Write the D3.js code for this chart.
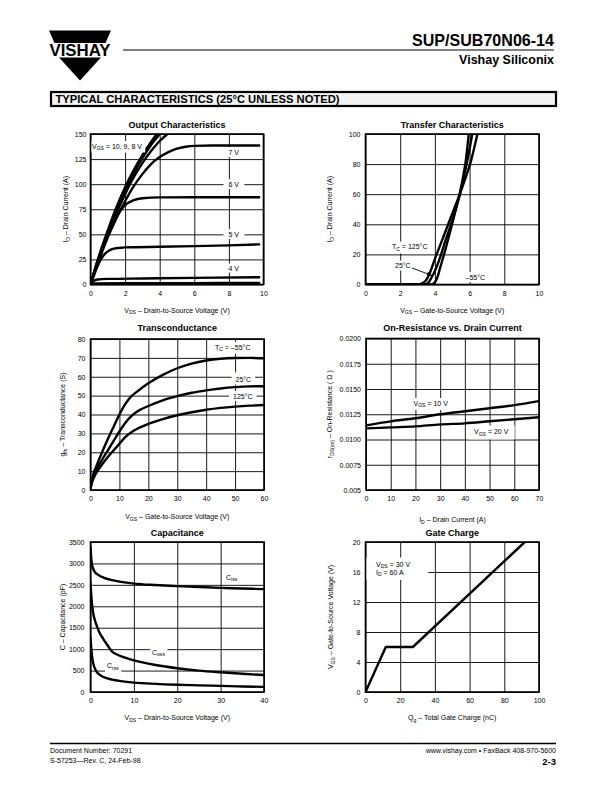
<!DOCTYPE html>
<html><head><meta charset="utf-8">
<script src="https://cdn.jsdelivr.net/npm/d3@7"></script>
<style>
body{margin:0;background:#fff}
svg{display:block}
text{font-family:'Liberation Sans',Arial,Helvetica,sans-serif;fill:#000}
</style>
</head><body>
<svg id="c" width="612" height="792"></svg>
<script>
// ---------------- DATA ----------------
// Output Characteristics: [VDS (V), ID (A)]
const out10V = [[0,0],[0.25,15],[0.5,29],[1,54],[1.5,77],[2,97],[2.5,114],[3,129],[3.5,142],[4,154]];
const out9V  = [[0,0],[0.25,14.5],[0.5,28],[1,52],[1.5,74],[2,94],[2.5,111],[3,126],[3.5,139],[4,150],[4.2,155]];
const out8V  = [[0,0],[0.25,14],[0.5,27],[1,50],[1.5,71],[2,90],[2.5,107],[3,121],[3.5,133],[4,143],[4.5,151],[4.7,155]];
const out7V  = [[0,0],[0.25,13],[0.5,25],[1,47],[1.5,66],[2,83],[2.5,98],[3,110],[3.5,120],[4,127],[4.5,132],[5,135.5],[5.5,137.3],[6,138.2],[7,138.6],[8,138.6],[9.75,138.6]];
const out6V  = [[0,0],[0.25,13],[0.5,25],[0.75,37],[1,48],[1.25,58],[1.5,67],[1.75,74],[2,79],[2.5,84],[3,86],[4,86.8],[6,87],[8,87],[9.75,87]];
const out5V  = [[0,0],[0.2,9],[0.4,18],[0.6,25],[0.8,30],[1,33],[1.3,35.5],[1.7,36.5],[2,37],[4,37.6],[6,38.2],[8,39],[9.75,40]];
const out4V  = [[0,0],[0.15,3],[0.4,5],[1,5.6],[3,6],[6,6.6],[9.75,7.3]];
const out3V  = [[0,0],[0.3,1],[2,1.2],[6,1.4],[9.75,1.6]];
const outXTicks = [0,2,4,6,8,10];
const outYTicks = [0,25,50,75,100,125,150];

// Transfer Characteristics: [VGS (V), ID (A)]
const tr125 = [[0,0],[3,0],[3.3,1],[3.5,3],[3.7,7.5],[4,17],[4.4,29],[4.8,41],[5.1,50],[5.4,59],[5.8,72],[6.1,83],[6.45,100]];
const tr25  = [[0,0],[3.35,0],[3.6,1],[3.8,4.5],[4,9],[4.3,18],[4.6,29],[4.9,39],[5.2,50],[5.4,58],[5.7,73],[6,90],[6.15,100]];
const trM55 = [[0,0],[3.8,0],[4,1.5],[4.15,5],[4.3,11],[4.6,23],[4.9,36],[5.1,45],[5.4,59],[5.6,70],[5.8,84],[5.95,100]];
const trXTicks = [0,2,4,6,8,10];
const trYTicks = [0,20,40,60,80,100];

// Transconductance: [VGS (V), gfs (S)]
const tcM55 = [[0,1],[0.5,5],[1,8.5],[2,12.5],[4,20],[6,27],[8,33.5],[10,40],[12,45.5],[14,49.5],[16,52],[20,56.5],[25,61],[30,64.5],[35,67],[40,68.6],[45,69.5],[50,69.9],[55,70],[60,69.8]];
const tc25  = [[0,1],[0.5,4.5],[1,7],[2,10.5],[4,16],[6,21],[8,26],[10,31],[12,35.5],[14,39],[16,41.5],[20,44.5],[25,47.5],[30,49.7],[35,51.5],[40,52.8],[45,53.8],[50,54.5],[55,54.9],[60,55]];
const tc125 = [[0,1],[0.5,4],[1,6],[2,9],[4,13.5],[6,17.5],[8,21],[10,24.5],[12,28],[14,30.5],[16,32.3],[20,35],[25,37.6],[30,39.6],[35,41.2],[40,42.5],[45,43.5],[50,44.2],[55,44.7],[60,45]];
const tcXTicks = [0,10,20,30,40,50,60];
const tcYTicks = [0,10,20,30,40,50,60,70,80];

// On-Resistance vs Drain Current: [ID (A), rDS(on) (ohm)]
const ron10V = [[0,0.0114],[10,0.0118],[20,0.0121],[30,0.0125],[40,0.0128],[50,0.0131],[60,0.0134],[70,0.0138]];
const ron20V = [[0,0.0111],[10,0.0112],[20,0.0113],[30,0.0115],[40,0.0116],[50,0.0118],[60,0.0120],[70,0.0122]];
const ronXTicks = [0,10,20,30,40,50,60,70];
const ronYTicks = [0.005,0.0075,0.01,0.0125,0.015,0.0175,0.02];
const ronYLabels = ["0.005","0.0075","0.0100","0.0125","0.0150","0.0175","0.0200"];

// Capacitance: [VDS (V), C (pF)]
const capCiss = [[0,3380],[0.15,3150],[0.3,3000],[0.6,2880],[1,2800],[2,2720],[3,2670],[5,2610],[7,2570],[10,2530],[15,2495],[20,2470],[25,2450],[30,2430],[35,2415],[40,2400]];
const capCoss = [[0,2550],[0.3,2100],[0.6,1850],[1,1680],[1.5,1530],[2,1400],[3,1230],[4,1080],[5,940],[6,880],[8,800],[10,740],[12,690],[15,630],[20,555],[25,500],[30,460],[35,425],[40,395]];
const capCrss = [[0,1270],[0.2,1000],[0.4,800],[0.7,640],[1,550],[1.5,460],[2,410],[3,350],[5,290],[7,255],[10,220],[15,190],[20,170],[25,155],[30,143],[35,130],[40,120]];
const capXTicks = [0,10,20,30,40];
const capYTicks = [0,500,1000,1500,2000,2500,3000,3500];

// Gate Charge: [Qg (nC), VGS (V)]
const gateCharge = [[0,0],[11.7,6],[27.3,6],[91.8,20]];
const gcXTicks = [0,20,40,60,80,100];
const gcYTicks = [0,4,8,12,16,20];

// ---------------- DRAWING ----------------
const svg = d3.select('#c');
const NARROW = "'Liberation Sans Narrow','Arial Narrow','Liberation Sans',Arial,sans-serif";

function addText(parent, x, y, parts, o = {}) {
  const fs = o.size || 7;
  const t = parent.append('text').attr('x', x).attr('y', y).attr('font-size', fs)
    .attr('text-anchor', o.anchor || 'start');
  if (o.weight) t.attr('font-weight', o.weight);
  if (o.family) t.style('font-family', o.family);
  if (o.transform) t.attr('transform', o.transform);
  let pend = 0;
  parts.forEach(p => {
    if (typeof p === 'string') {
      const s = t.append('tspan').text(p);
      if (pend) s.attr('dy', pend);
      pend = 0;
    } else {
      t.append('tspan').attr('font-size', fs * 0.72).attr('dy', fs * 0.28).text(p.sub);
      pend = -fs * 0.28;
    }
  });
  return t;
}

function chart(c) {
  const g = svg.append('g');
  const x = d3.scaleLinear().domain(c.xd).range([c.l, c.r]);
  const y = d3.scaleLinear().domain(c.yd).range([c.b, c.t]);

  const ax = g.append('g').attr('transform', `translate(0,${c.b})`)
    .call(d3.axisBottom(x).tickValues(c.xt).tickSize(-(c.b - c.t)).tickPadding(6.5)
      .tickFormat(c.xf || d3.format('d')));
  const ay = g.append('g').attr('transform', `translate(${c.l},0)`)
    .call(d3.axisLeft(y).tickValues(c.yt).tickSize(-(c.r - c.l)).tickPadding(c.ypad || 4.5)
      .tickFormat(c.yf || d3.format('d')));
  [ax, ay].forEach(a => {
    a.attr('font-family', null).attr('font-size', null);
    a.select('.domain').remove();
    a.selectAll('line').attr('stroke', '#000').attr('stroke-width', 0.9);
    a.selectAll('text').attr('font-size', 7).attr('fill', '#000');
  });

  const id = 'clip' + c.id;
  svg.append('clipPath').attr('id', id).append('rect')
    .attr('x', c.l).attr('y', c.t).attr('width', c.r - c.l).attr('height', c.b - c.t);

  const line = d3.line().x(d => x(d[0])).y(d => y(d[1])).curve(c.curve || d3.curveMonotoneX);
  const cg = g.append('g').attr('clip-path', `url(#${id})`);
  c.series.forEach(s => cg.append('path').datum(s).attr('d', line)
    .attr('fill', 'none').attr('stroke', '#000').attr('stroke-width', 2.4)
    .attr('stroke-linejoin', 'round').attr('stroke-linecap', 'round'));

  const bgG = g.append('g').attr('clip-path', `url(#${id})`);
  g.append('rect').attr('x', c.l).attr('y', c.t).attr('width', c.r - c.l).attr('height', c.b - c.t)
    .attr('fill', 'none').attr('stroke', '#000').attr('stroke-width', 1.6);
  const lg = g.append('g');

  (c.labels || []).forEach(L => {
    const lines = L.lines || [L];
    const nodes = lines.map(l => addText(lg, l.x, l.y, l.parts, { size: 7 }));
    if (L.bg) {
      let x0 = Infinity, y0 = Infinity, x1 = -Infinity, y1 = -Infinity;
      nodes.forEach(n => { const b = n.node().getBBox();
        x0 = Math.min(x0, b.x); y0 = Math.min(y0, b.y); x1 = Math.max(x1, b.x + b.width); y1 = Math.max(y1, b.y + b.height); });
      const p = L.bg;
      bgG.append('rect').attr('x', x0 - p[0]).attr('y', y0 - p[1])
        .attr('width', x1 - x0 + p[0] + p[2]).attr('height', y1 - y0 + p[1] + p[3]).attr('fill', '#fff');
    }
  });

  if (c.arrow) {
    const a = c.arrow;
    lg.append('line').attr('x1', a[0]).attr('y1', a[1]).attr('x2', a[2]).attr('y2', a[3])
      .attr('stroke', '#000').attr('stroke-width', 0.9);
    const ang = Math.atan2(a[3] - a[1], a[2] - a[0]);
    const L = 5, W = 2;
    const bx = a[2] - L * Math.cos(ang), by = a[3] - L * Math.sin(ang);
    lg.append('path').attr('d', `M${a[2]},${a[3]}L${bx - W * Math.sin(ang)},${by + W * Math.cos(ang)}L${bx + W * Math.sin(ang)},${by - W * Math.cos(ang)}Z`)
      .attr('fill', '#000');
  }

  addText(g, (c.l + c.r) / 2, c.titleY, [c.title], { size: 9, weight: 'bold', anchor: 'middle', family: NARROW });
  addText(g, (c.l + c.r) / 2, c.xlabY, c.xlab, { size: 7, anchor: 'middle' });
  addText(g, 0, 0, c.ylab, { size: 7, anchor: 'middle', transform: `translate(${c.ylabX},${(c.t + c.b) / 2}) rotate(-90)` });
}

// Header
svg.append('polygon').attr('points', '49,30.5 111,30.5 105.5,43 54.5,43').attr('fill', '#000');
svg.append('polygon').attr('points', '59,57.5 101,57.5 80,80.5').attr('fill', '#000');
svg.append('text').attr('x', 49.5).attr('y', 56).attr('font-size', 16).attr('font-weight', 'bold')
  .attr('textLength', 61).attr('lengthAdjust', 'spacingAndGlyphs').text('VISHAY');
svg.append('line').attr('x1', 123).attr('x2', 554).attr('y1', 50).attr('y2', 50).attr('stroke', '#000').attr('stroke-width', 1.1);
svg.append('text').attr('x', 554).attr('y', 45.5).attr('text-anchor', 'end').attr('font-size', 17)
  .attr('font-weight', 'bold').style('font-family', NARROW)
  .attr('textLength', 142).attr('lengthAdjust', 'spacingAndGlyphs').text('SUP/SUB70N06-14');
svg.append('text').attr('x', 554).attr('y', 63.5).attr('text-anchor', 'end').attr('font-size', 12.5)
  .attr('font-weight', 'bold').text('Vishay Siliconix');

// Section box
svg.append('rect').attr('x', 51).attr('y', 92).attr('width', 505).attr('height', 14)
  .attr('fill', '#f3f3f3').attr('stroke', '#000').attr('stroke-width', 2.2);
svg.append('text').attr('x', 55.5).attr('y', 103).attr('font-size', 10).attr('font-weight', 'bold')
  .attr('textLength', 284).attr('lengthAdjust', 'spacingAndGlyphs').text('TYPICAL CHARACTERISTICS (25\u00B0C UNLESS NOTED)');

// Footer
svg.append('line').attr('x1', 50).attr('x2', 556).attr('y1', 743.5).attr('y2', 743.5).attr('stroke', '#000').attr('stroke-width', 1.4);
svg.append('text').attr('x', 50).attr('y', 752.5).attr('font-size', 7).text('Document Number:  70291');
svg.append('text').attr('x', 50).attr('y', 763).attr('font-size', 7).text('S-57253\u2014Rev. C, 24-Feb-98');
svg.append('text').attr('x', 556).attr('y', 752.5).attr('font-size', 7).attr('text-anchor', 'end').text('www.vishay.com \u2022 FaxBack 408-970-5600');
svg.append('text').attr('x', 556).attr('y', 764.5).attr('font-size', 9.5).attr('font-weight', 'bold').attr('text-anchor', 'end')
  .style('font-family', NARROW).text('2-3');

// Charts
chart({
  id: 1, l: 90.5, r: 263.5, t: 134, b: 284.5, xd: [0, 10], yd: [0, 150], xt: outXTicks, yt: outYTicks, ypad: 4,
  series: [out10V, out9V, out8V, out7V, out6V, out5V, out4V, out3V],
  title: 'Output Characteristics', titleY: 128,
  xlab: ['V', {sub: 'DS'}, '  \u2013  Drain-to-Source Voltage (V)'], xlabY: 312.5,
  ylab: ['I', {sub: 'D'}, '  \u2013  Drain Current (A)'], ylabX: 68,
  labels: [
    {x: 92, y: 148.5, parts: ['V', {sub: 'GS'}, ' = 10, 9, 8 V'], bg: [2, 1.5, 3, 1]},
    {x: 228.5, y: 154.5, parts: ['7 V'], bg: [5, 1.5, 5, 1.5]},
    {x: 228.5, y: 186.5, parts: ['6 V'], bg: [5, 1.5, 5, 1.5]},
    {x: 228.5, y: 236.5, parts: ['5 V'], bg: [5, 1.5, 5, 1.5]},
    {x: 228.5, y: 270.5, parts: ['4 V'], bg: [3, 1, 3, 1]}
  ]
});

chart({
  id: 2, l: 365.5, r: 539, t: 134, b: 284.5, xd: [0, 10], yd: [0, 100], xt: trXTicks, yt: trYTicks, ypad: 5,
  series: [tr125, tr25, trM55],
  title: 'Transfer Characteristics', titleY: 128,
  xlab: ['V', {sub: 'GS'}, '  \u2013  Gate-to-Source Voltage (V)'], xlabY: 312.5,
  ylab: ['I', {sub: 'D'}, '  \u2013  Drain Current (A)'], ylabX: 332,
  labels: [
    {x: 392, y: 249, parts: ['T', {sub: 'C'}, ' = 125\u00B0C'], bg: [2, 1.5, 2, 1.5]},
    {x: 395, y: 268, parts: ['25\u00B0C'], bg: [2, 1.5, 1, 1.5]},
    {x: 465.5, y: 279.5, parts: ['\u201355\u00B0C'], bg: [2, 1.5, 2, 1.5]}
  ],
  arrow: [412, 268, 432, 275.5]
});

chart({
  id: 3, l: 90.5, r: 264, t: 339, b: 490, xd: [0, 60], yd: [0, 80], xt: tcXTicks, yt: tcYTicks, ypad: 5,
  series: [tcM55, tc25, tc125],
  title: 'Transconductance', titleY: 331,
  xlab: ['V', {sub: 'GS'}, ' \u2013 Gate-to-Source Voltage (V)'], xlabY: 519,
  ylab: ['g', {sub: 'fs'}, '  \u2013  Transconductance (S)'], ylabX: 65,
  labels: [
    {x: 215, y: 349.5, parts: ['T', {sub: 'C'}, ' = \u201355\u00B0C'], bg: [2, 1.5, 3, 1.5]},
    {x: 235.5, y: 382, parts: ['25\u00B0C'], bg: [4, 3.5, 4, 1.5]},
    {x: 233, y: 398.5, parts: ['125\u00B0C'], bg: [4, 1.5, 4, 1.5]}
  ]
});

chart({
  id: 4, l: 366, r: 539, t: 338.5, b: 490, xd: [0, 70], yd: [0.005, 0.02], xt: ronXTicks, yt: ronYTicks, ypad: 5,
  yf: (d, i) => ronYLabels[i],
  series: [ron10V, ron20V],
  title: 'On-Resistance vs. Drain Current', titleY: 331,
  xlab: ['I', {sub: 'D'}, '  \u2013  Drain Current (A)'], xlabY: 522,
  ylab: ['r', {sub: 'DS(on)'}, ' \u2013  On-Resistance  (  \u03A9  )'], ylabX: 332,
  labels: [
    {x: 413.5, y: 405.5, parts: ['V', {sub: 'GS'}, ' = 10 V'], bg: [2, 1.5, 2, 1.5]},
    {x: 474, y: 434, parts: ['V', {sub: 'GS'}, ' = 20 V'], bg: [6, 2.5, 6, 2.5]}
  ]
});

chart({
  id: 5, l: 90.5, r: 264, t: 542, b: 692, xd: [0, 40], yd: [0, 3500], xt: capXTicks, yt: capYTicks, ypad: 6,
  series: [capCiss, capCoss, capCrss],
  title: 'Capacitance', titleY: 536,
  xlab: ['V', {sub: 'DS'}, '  \u2013  Drain-to-Source Voltage (V)'], xlabY: 720,
  ylab: ['C  \u2013  Capacitance (pF)'], ylabX: 65,
  labels: [
    {x: 226, y: 579.5, parts: ['C', {sub: 'iss'}]},
    {x: 152, y: 654.5, parts: ['C', {sub: 'oss'}], bg: [2, 1.5, 2, 1.5]},
    {x: 107, y: 668, parts: ['C', {sub: 'rss'}], bg: [2, 1.5, 2, 1.5]}
  ]
});

chart({
  id: 6, l: 365.5, r: 539, t: 542, b: 692, xd: [0, 100], yd: [0, 20], xt: gcXTicks, yt: gcYTicks, ypad: 5,
  curve: d3.curveLinear,
  series: [gateCharge],
  title: 'Gate Charge', titleY: 536,
  xlab: ['Q', {sub: 'g'}, '  \u2013  Total Gate Charge (nC)'], xlabY: 720,
  ylab: ['V', {sub: 'GS'}, '  \u2013  Gate-to-Source Voltage (V)'], ylabX: 333,
  labels: [
    {lines: [
      {x: 376, y: 566.5, parts: ['V', {sub: 'DS'}, ' = 30 V']},
      {x: 376, y: 574.5, parts: ['I', {sub: 'D'}, ' = 60 A']}
    ], bg: [12, 3, 18, 2.5]}
  ]
});
</script>
</body></html>
